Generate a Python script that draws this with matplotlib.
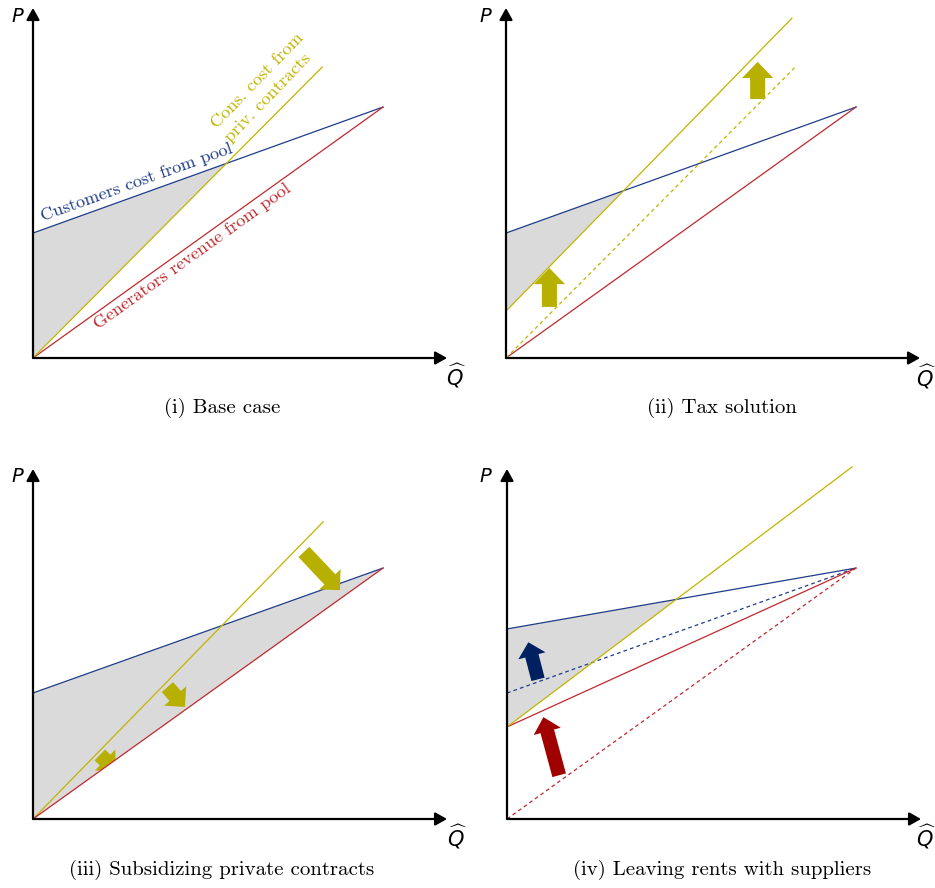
import numpy as np
import matplotlib
matplotlib.use("Agg")
import matplotlib.pyplot as plt
from matplotlib.patches import FancyArrow, Polygon

# ---------------- data (units: Q-hat horizontally, P vertically) ----------------
q_axis_end = 11.83
p_axis_end = 10.0

# (i) Base case
base_blue_q = [0.0, 10.0];  base_blue_p = [3.57, 7.17]   # customers cost from pool
base_red_q = [0.0, 10.0];   base_red_p = [0.0, 7.17]     # generators revenue from pool
base_yel_q = [0.0, 8.26];   base_yel_p = [0.0, 8.31]     # cons. cost from priv. contracts

# (ii) Tax solution
tax_blue_q = [0.0, 10.0];   tax_blue_p = [3.57, 7.17]
tax_red_q = [0.0, 10.0];    tax_red_p = [0.0, 7.17]
tax_yel_q = [0.0, 8.17];    tax_yel_p = [1.34, 9.71]
tax_yel_old_q = [0.0, 8.26]; tax_yel_old_p = [0.0, 8.31]
tax_arrow_tail_q = [1.24, 7.19]; tax_arrow_tail_p = [1.46, 7.40]
tax_arrow_tip_q = [1.24, 7.19];  tax_arrow_tip_p = [2.57, 8.46]

# (iii) Subsidizing private contracts
sub_blue_q = [0.0, 10.0];   sub_blue_p = [3.60, 7.17]
sub_red_q = [0.0, 10.0];    sub_red_p = [0.0, 7.17]
sub_yel_q = [0.0, 8.29];    sub_yel_p = [0.0, 8.49]
sub_arrow_tail_q = [7.74, 3.84, 1.91]; sub_arrow_tail_p = [7.63, 3.77, 1.83]
sub_arrow_tip_q = [8.77, 4.34, 2.36];  sub_arrow_tip_p = [6.54, 3.20, 1.39]

# (iv) Leaving rents with suppliers
rent_blue_q = [0.0, 9.97];  rent_blue_p = [5.43, 7.17]
rent_blue_old_q = [0.0, 9.97]; rent_blue_old_p = [3.60, 7.17]
rent_red_q = [0.0, 9.97];   rent_red_p = [2.63, 7.17]
rent_red_old_q = [0.0, 9.97]; rent_red_old_p = [0.0, 7.17]
rent_yel_q = [0.0, 9.86];   rent_yel_p = [2.63, 10.06]
rent_arrow_tail_q = [0.886, 1.49]; rent_arrow_tail_p = [3.99, 1.25]
rent_arrow_tip_q = [0.61, 1.04];   rent_arrow_tip_p = [5.05, 2.91]

captions = ["(i) Base case", "(ii) Tax solution",
            "(iii) Subsidizing private contracts", "(iv) Leaving rents with suppliers"]

# ---------------- style ----------------
BLUE = "#1f3c88"
RED = "#c0282d"
YEL = "#c2b400"
ARR_YEL = "#b8b000"
ARR_BLUE = "#002060"
ARR_RED = "#a00000"
FILL = "#dadada"
SERIF = "cmr10"

W, H = 935, 888
PX = 35.0
XLIM = (-0.9, 12.4)
YLIM = (-1.75, 10.2)

fig = plt.figure(figsize=(W / 100, H / 100), dpi=100)


def make_ax(ox, oy):
    left = ox + XLIM[0] * PX
    right = ox + XLIM[1] * PX
    top = oy - YLIM[1] * PX
    bottom = oy - YLIM[0] * PX
    ax = fig.add_axes([left / W, 1 - bottom / H, (right - left) / W, (bottom - top) / H])
    ax.set_xlim(*XLIM)
    ax.set_ylim(*YLIM)
    ax.set_axis_off()
    return ax


def draw_axes(ax, plab, qlab):
    kw = dict(arrowstyle="-|>,head_length=0.5,head_width=0.28", lw=1.6, color="black",
              shrinkA=0, shrinkB=0, mutation_scale=14)
    ax.annotate("", xy=(0, p_axis_end), xytext=(0, 0), arrowprops=kw, zorder=10)
    ax.annotate("", xy=(q_axis_end, 0), xytext=(0, 0), arrowprops=kw, zorder=10)
    ax.text(plab[0], plab[1], "P", fontsize=14, family="DejaVu Sans", style="italic",
            ha="center", va="center")
    ax.text(qlab[0], qlab[1], r"$\widehat{\mathit{Q}}$", fontsize=15, ha="center", va="center")


def line_fn(q, p):
    s = (p[1] - p[0]) / (q[1] - q[0])
    return s, p[0]


def intersect(q1, p1, q2, p2):
    s1, b1 = line_fn(q1, p1)
    s2, b2 = line_fn(q2, p2)
    x = (b2 - b1) / (s1 - s2)
    return x, b1 + s1 * x


def arrow(ax, tq, tp, hq, hp, color, width, hw, hl, z=6):
    ax.add_patch(FancyArrow(tq, tp, hq - tq, hp - tp, width=width, head_width=hw,
                            head_length=hl, length_includes_head=True,
                            color=color, lw=0, zorder=z))


LW = 0.9

# ---- (i)
ax = make_ax(33, 358)
xi, yi = intersect(base_blue_q, base_blue_p, base_yel_q, base_yel_p)
ax.add_patch(Polygon([(0, base_blue_p[0]), (xi, yi), (0, base_yel_p[0])], closed=True,
                     facecolor=FILL, edgecolor="none", zorder=1))
ax.plot(base_blue_q, base_blue_p, color=BLUE, lw=LW, zorder=3)
ax.plot(base_red_q, base_red_p, color=RED, lw=LW, zorder=3)
ax.plot(base_yel_q, base_yel_p, color=YEL, lw=LW, zorder=3)
draw_axes(ax, (-0.46, 9.77), (12.1, -0.5))
ax.text(0.29, 3.91, "Customers cost from pool", color=BLUE, fontsize=13, family=SERIF,
        rotation=np.degrees(np.arctan(0.36)), rotation_mode="anchor", ha="left", va="baseline")
ax.text(1.857, 0.80, "Generators revenue from pool", color=RED, fontsize=13.2, family=SERIF,
        rotation=np.degrees(np.arctan(0.717)), rotation_mode="anchor", ha="left", va="baseline")
ax.text(5.57, 6.23, "Cons. cost from\npriv. contracts", color=YEL, fontsize=13.2, family=SERIF,
        rotation=46, rotation_mode="anchor", ha="left", va="baseline", linespacing=1.35)
ax.text(5.4, -1.43, captions[0], fontsize=15, family=SERIF, ha="center", va="center")

# ---- (ii)
ax = make_ax(506, 358)
xi, yi = intersect(tax_blue_q, tax_blue_p, tax_yel_q, tax_yel_p)
ax.add_patch(Polygon([(0, tax_blue_p[0]), (xi, yi), (0, tax_yel_p[0])], closed=True,
                     facecolor=FILL, edgecolor="none", zorder=1))
ax.plot(tax_blue_q, tax_blue_p, color=BLUE, lw=LW, zorder=3)
ax.plot(tax_red_q, tax_red_p, color=RED, lw=LW, zorder=3)
ax.plot(tax_yel_q, tax_yel_p, color=YEL, lw=LW, zorder=3)
ax.plot(tax_yel_old_q, tax_yel_old_p, color=YEL, lw=LW, ls=(0, (3, 2.5)), zorder=3)
for k in range(len(tax_arrow_tail_q)):
    arrow(ax, tax_arrow_tail_q[k], tax_arrow_tail_p[k], tax_arrow_tip_q[k], tax_arrow_tip_p[k],
          ARR_YEL, 0.43, 0.89, 0.46)
draw_axes(ax, (-0.6, 9.77), (12.0, -0.54))
ax.text(6.17, -1.43, captions[1], fontsize=15, family=SERIF, ha="center", va="center")

# ---- (iii)
ax = make_ax(33, 819)
ax.add_patch(Polygon([(0, sub_blue_p[0]), (sub_blue_q[1], sub_blue_p[1]), (0, sub_red_p[0])],
                     closed=True, facecolor=FILL, edgecolor="none", zorder=1))
ax.plot(sub_blue_q, sub_blue_p, color=BLUE, lw=LW, zorder=3)
ax.plot(sub_yel_q, sub_yel_p, color=YEL, lw=LW, zorder=3)
for k in range(len(sub_arrow_tail_q)):
    arrow(ax, sub_arrow_tail_q[k], sub_arrow_tail_p[k], sub_arrow_tip_q[k], sub_arrow_tip_p[k],
          ARR_YEL, 0.43, 0.84, 0.42, z=4)
# area below the generators line stays white
ax.add_patch(Polygon([(0, 0), (sub_red_q[1], sub_red_p[1]), (sub_red_q[1], 0)], closed=True,
                     facecolor="white", edgecolor="none", zorder=5))
ax.plot(sub_red_q, sub_red_p, color=RED, lw=LW, zorder=6)
draw_axes(ax, (-0.44, 9.8), (12.12, -0.51))
ax.text(5.4, -1.46, captions[2], fontsize=15, family=SERIF, ha="center", va="center")

# ---- (iv)
ax = make_ax(507, 819)
xi, yi = intersect(rent_blue_q, rent_blue_p, rent_yel_q, rent_yel_p)
ax.add_patch(Polygon([(0, rent_blue_p[0]), (xi, yi), (0, rent_yel_p[0])], closed=True,
                     facecolor=FILL, edgecolor="none", zorder=1))
ax.plot(rent_blue_q, rent_blue_p, color=BLUE, lw=LW, zorder=3)
ax.plot(rent_blue_old_q, rent_blue_old_p, color=BLUE, lw=LW, ls=(0, (3, 2.5)), zorder=3)
ax.plot(rent_red_q, rent_red_p, color=RED, lw=LW, zorder=3)
ax.plot(rent_red_old_q, rent_red_old_p, color=RED, lw=LW, ls=(0, (3, 2.5)), zorder=3)
ax.plot(rent_yel_q, rent_yel_p, color=YEL, lw=LW, zorder=3)
arrow(ax, rent_arrow_tail_q[0], rent_arrow_tail_p[0], rent_arrow_tip_q[0], rent_arrow_tip_p[0],
      ARR_BLUE, 0.39, 0.80, 0.40)
arrow(ax, rent_arrow_tail_q[1], rent_arrow_tail_p[1], rent_arrow_tip_q[1], rent_arrow_tip_p[1],
      ARR_RED, 0.40, 0.80, 0.42)
draw_axes(ax, (-0.63, 9.8), (11.97, -0.51))
ax.text(6.16, -1.46, captions[3], fontsize=15, family=SERIF, ha="center", va="center")

fig.savefig("out.png", dpi=100)
